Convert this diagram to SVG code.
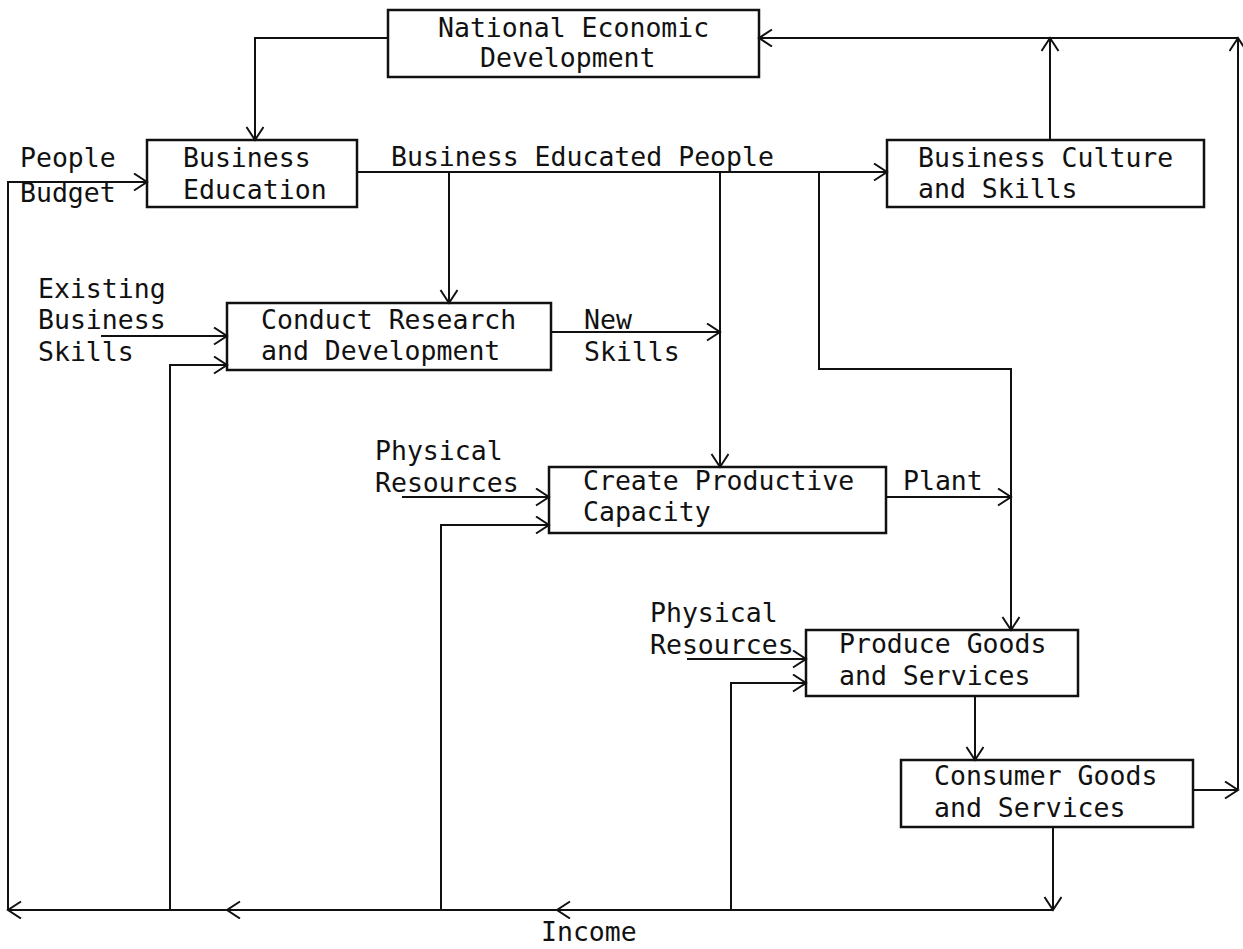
<svg xmlns="http://www.w3.org/2000/svg" width="1243" height="949" viewBox="0 0 1243 949">
<style>
text{font-family:"DejaVu Sans Mono","Liberation Mono",monospace;font-size:26.5px;fill:#111}
.box{fill:none;stroke:#111;stroke-width:2.5}
.c{fill:none;stroke:#111;stroke-width:2}
.a{marker-end:url(#ah)}
</style>
<defs>
<marker id="ah" markerUnits="userSpaceOnUse" markerWidth="20" markerHeight="20" refX="15" refY="9" orient="auto" viewBox="0 0 20 20">
<path d="M2,0.5 L15,9 L2,17.5" fill="none" stroke="#111" stroke-width="2"/>
</marker>
</defs>
<rect width="1243" height="949" fill="#fff"/>
<g id="connectors">
<path class="c a" d="M388,38 H255 V140"/>
<path class="c a" d="M8,910 V182 H147"/>
<path class="c a" d="M357,172 H887"/>
<path class="c a" d="M449,172 V303"/>
<path class="c a" d="M720,172 V467"/>
<path class="c a" d="M819,172 V369 H1011 V630"/>
<path class="c a" d="M1050,140 V38"/>
<path class="c a" d="M1238,789 V38"/>
<path class="c a" d="M1238,38 H759"/>
<path class="c a" d="M101,336 H227"/>
<path class="c a" d="M170,910 V365 H227"/>
<path class="c a" d="M551,332 H720"/>
<path class="c a" d="M402,497 H549"/>
<path class="c a" d="M441,910 V525 H549"/>
<path class="c a" d="M886,497 H1011"/>
<path class="c a" d="M687,659 H806"/>
<path class="c a" d="M731,910 V683 H806"/>
<path class="c a" d="M975,696 V760"/>
<path class="c a" d="M1193,790 H1238"/>
<path class="c a" d="M1053,827 V910"/>
<path class="c a" d="M1053,910 H557"/>
<path class="c a" d="M557,910 H227"/>
<path class="c a" d="M227,910 H8"/>
</g>
<g id="labels">
<text x="20" y="167">People</text>
<text x="20" y="202">Budget</text>
<text x="391" y="166">Business Educated People</text>
<text x="38" y="298">Existing</text>
<text x="38" y="329">Business</text>
<text x="38" y="361">Skills</text>
<text x="584" y="329">New</text>
<text x="584" y="361">Skills</text>
<text x="375" y="460">Physical</text>
<text x="375" y="492">Resources</text>
<text x="903" y="490">Plant</text>
<text x="650" y="622">Physical</text>
<text x="650" y="654">Resources</text>
<text x="541" y="941">Income</text>
</g>
<g id="ned">
<rect class="box" x="388" y="10" width="371" height="67"/>
<text x="438" y="37">National Economic</text>
<text x="480" y="67">Development</text>
</g>
<g id="be">
<rect class="box" x="147" y="140" width="210" height="67"/>
<text x="183" y="167">Business</text>
<text x="183" y="199">Education</text>
</g>
<g id="bcs">
<rect class="box" x="887" y="140" width="317" height="67"/>
<text x="918" y="167">Business Culture</text>
<text x="918" y="198">and Skills</text>
</g>
<g id="crd">
<rect class="box" x="227" y="303" width="324" height="67"/>
<text x="261" y="329">Conduct Research</text>
<text x="261" y="360">and Development</text>
</g>
<g id="cpc">
<rect class="box" x="549" y="467" width="337" height="66"/>
<text x="583" y="490">Create Productive</text>
<text x="583" y="521">Capacity</text>
</g>
<g id="pgs">
<rect class="box" x="806" y="630" width="272" height="66"/>
<text x="839" y="653">Produce Goods</text>
<text x="839" y="685">and Services</text>
</g>
<g id="cgs">
<rect class="box" x="901" y="760" width="292" height="67"/>
<text x="934" y="785">Consumer Goods</text>
<text x="934" y="817">and Services</text>
</g>
</svg>
